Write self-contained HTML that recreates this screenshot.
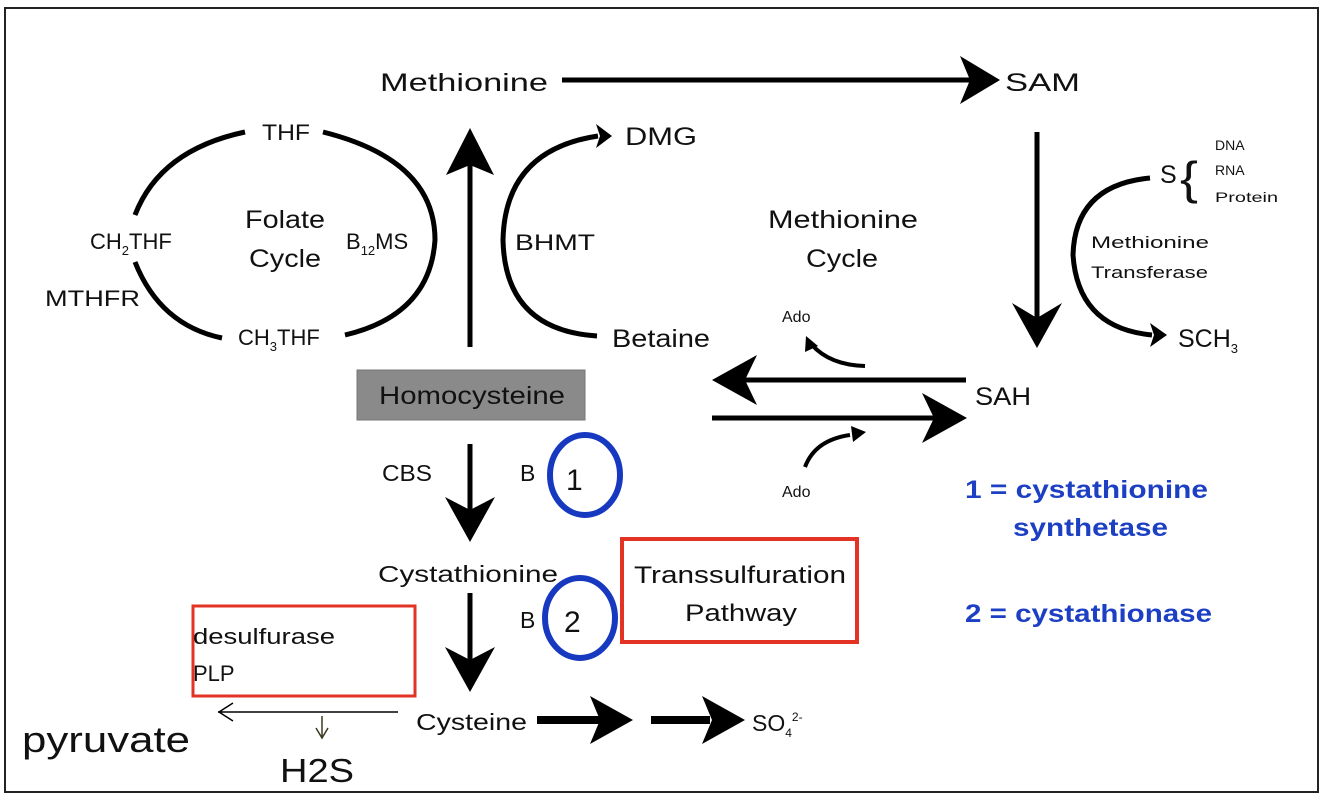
<!DOCTYPE html>
<html><head><meta charset="utf-8"><style>
html,body{margin:0;padding:0;background:#fff;}
svg{display:block;}
text{font-family:"Liberation Sans",sans-serif;fill:#111;}
</style></head><body>
<svg width="1334" height="807" viewBox="0 0 1334 807" xmlns="http://www.w3.org/2000/svg">
<rect x="5" y="8" width="1313" height="784" fill="#fff" stroke="#222" stroke-width="2"/>
<g stroke="#000" fill="none" stroke-width="5">
<!-- folate cycle arcs -->
<path d="M245,132 Q160,150 135,215"/>
<path d="M323,132 Q435,160 435,240 Q430,315 345,335"/>
<path d="M135,262 Q160,325 222,338"/>
<!-- up arrow -->
<line x1="470" y1="347" x2="470" y2="165"/>
<!-- methionine -> SAM -->
<line x1="562" y1="80" x2="975" y2="80"/>
<!-- BHMT arc -->
<path d="M598,136 Q505,150 503,240 Q505,330 597,336"/>
<!-- SAM down -->
<line x1="1037" y1="132" x2="1037" y2="320"/>
<!-- methionine transferase arc -->
<path d="M1150,178 Q1075,185 1073,255 Q1078,328 1152,335"/>
<!-- SAH arrows -->
<line x1="966" y1="380" x2="740" y2="380"/>
<line x1="712" y1="418" x2="940" y2="418"/>
<path d="M865,366 Q830,365 812,345" stroke-width="4"/>
<path d="M805,467 Q815,440 850,435" stroke-width="4"/>
<!-- down arrows -->
<line x1="470" y1="444" x2="470" y2="510"/>
<line x1="470" y1="593" x2="470" y2="660"/>
<line x1="537" y1="720" x2="600" y2="720" stroke-width="8"/>
<line x1="651" y1="720" x2="710" y2="720" stroke-width="8"/>
</g>
<g fill="#000">
<polygon points="1000,80 960,56 970,80 960,104"/>
<polygon points="470,128 446,175 470,165 494,175"/>
<polygon points="612,136 596,124 600,136 596,148"/>
<polygon points="1037,348 1012,303 1037,318 1062,303"/>
<polygon points="1167,335 1150,323 1154,335 1150,347"/>
<polygon points="712,380 757,355 745,380 757,405"/>
<polygon points="967,418 922,393 934,418 922,443"/>
<polygon points="806,336 805,352 818,346"/>
<polygon points="866,432 851,426 853,442"/>
<polygon points="470,542 445,497 470,510 495,497"/>
<polygon points="470,692 445,647 470,660 495,647"/>
<polygon points="633,720 590,696 600,720 590,744"/>
<polygon points="745,720 702,696 712,720 702,744"/>
</g>
<!-- thin arrows -->
<g stroke="#000" stroke-width="1.5" fill="none">
<line x1="398" y1="712" x2="218" y2="712"/>
<polyline points="233,703 219,712 233,721"/>
</g>
<g stroke="#3a3a20" stroke-width="1.5" fill="none">
<line x1="322" y1="716" x2="322" y2="738"/>
<polyline points="316,728 322,738 328,728"/>
</g>
<!-- homocysteine box -->
<rect x="357" y="370" width="228" height="50" fill="#8a8a8a" stroke="#777"/>
<!-- labels -->
<g font-size="25">
<text x="380" y="91" textLength="168" lengthAdjust="spacingAndGlyphs">Methionine</text>
<text x="1005" y="91" textLength="75" lengthAdjust="spacingAndGlyphs">SAM</text>
<text x="262" y="140" font-size="22" textLength="48" lengthAdjust="spacingAndGlyphs">THF</text>
<text x="625" y="145" textLength="72" lengthAdjust="spacingAndGlyphs">DMG</text>
<text x="245" y="228" textLength="80" lengthAdjust="spacingAndGlyphs">Folate</text>
<text x="249" y="267" textLength="72" lengthAdjust="spacingAndGlyphs">Cycle</text>
<text x="90" y="249" font-size="22">CH<tspan font-size="13" dy="6">2</tspan><tspan dy="-6">THF</tspan></text>
<text x="346" y="249" font-size="22">B<tspan font-size="13" dy="6">12</tspan><tspan dy="-6">MS</tspan></text>
<text x="515" y="250" font-size="22" textLength="80" lengthAdjust="spacingAndGlyphs">BHMT</text>
<text x="45" y="306" font-size="22" textLength="95" lengthAdjust="spacingAndGlyphs">MTHFR</text>
<text x="238" y="345" font-size="22">CH<tspan font-size="13" dy="6">3</tspan><tspan dy="-6">THF</tspan></text>
<text x="612" y="347" textLength="98" lengthAdjust="spacingAndGlyphs">Betaine</text>
<text x="768" y="228" textLength="150" lengthAdjust="spacingAndGlyphs">Methionine</text>
<text x="806" y="267" textLength="72" lengthAdjust="spacingAndGlyphs">Cycle</text>
<text x="379" y="404" textLength="186" lengthAdjust="spacingAndGlyphs">Homocysteine</text>
<text x="975" y="405" textLength="56" lengthAdjust="spacingAndGlyphs">SAH</text>
<text x="1178" y="347">SCH<tspan font-size="13" dy="6">3</tspan></text>
<text x="1160" y="183">S</text>
<text x="1180" y="194" font-size="46" font-weight="100" textLength="18" lengthAdjust="spacingAndGlyphs">{</text>
<text x="382" y="481" font-size="23" textLength="50" lengthAdjust="spacingAndGlyphs">CBS</text>
<text x="520" y="481" font-size="23">B</text>
<text x="378" y="582" font-size="23" textLength="180" lengthAdjust="spacingAndGlyphs">Cystathionine</text>
<text x="520" y="628" font-size="23">B</text>
<text x="416" y="730" font-size="23" textLength="111" lengthAdjust="spacingAndGlyphs">Cysteine</text>
<text x="752" y="731" font-size="23">SO<tspan font-size="12" dy="6">4</tspan><tspan font-size="12" dy="-16">2-</tspan></text>
</g>
<g font-size="14">
<text x="1215" y="150">DNA</text>
<text x="1215" y="175">RNA</text>
<text x="1215" y="202" textLength="63" lengthAdjust="spacingAndGlyphs">Protein</text>
<text x="782" y="322" font-size="16">Ado</text>
<text x="782" y="497" font-size="16">Ado</text>
<text x="1091" y="248" font-size="17" textLength="118" lengthAdjust="spacingAndGlyphs">Methionine</text>
<text x="1091" y="278" font-size="17" textLength="117" lengthAdjust="spacingAndGlyphs">Transferase</text>
</g>
<!-- circles -->
<g fill="#fff" stroke="#1739c0" stroke-width="6">
<ellipse cx="585" cy="475" rx="35" ry="40"/>
<ellipse cx="580" cy="618" rx="35" ry="40"/>
</g>
<text x="566" y="490" font-size="30">1</text>
<text x="564" y="632" font-size="30">2</text>
<!-- red boxes -->
<rect x="622" y="539" width="235" height="103" fill="none" stroke="#e33324" stroke-width="4"/>
<rect x="193" y="606" width="222" height="90" fill="none" stroke="#e33324" stroke-width="3"/>
<text x="634" y="583" font-size="24" textLength="212" lengthAdjust="spacingAndGlyphs">Transsulfuration</text>
<text x="685" y="621" font-size="24" textLength="112" lengthAdjust="spacingAndGlyphs">Pathway</text>
<text x="193" y="644" font-size="22" textLength="142" lengthAdjust="spacingAndGlyphs">desulfurase</text>
<text x="193" y="681" font-size="22">PLP</text>
<text x="22" y="752" font-size="36" textLength="168" lengthAdjust="spacingAndGlyphs">pyruvate</text>
<text x="280" y="782" font-size="33" textLength="74" lengthAdjust="spacingAndGlyphs">H2S</text>
<g font-size="25" font-weight="bold" style="fill:#1c3fc4">
<text x="965" y="498" style="fill:#1c3fc4" textLength="243" lengthAdjust="spacingAndGlyphs">1 = cystathionine</text>
<text x="1013" y="536" style="fill:#1c3fc4" textLength="155" lengthAdjust="spacingAndGlyphs">synthetase</text>
<text x="965" y="622" style="fill:#1c3fc4" textLength="247" lengthAdjust="spacingAndGlyphs">2 = cystathionase</text>
</g>
</svg>
</body></html>
